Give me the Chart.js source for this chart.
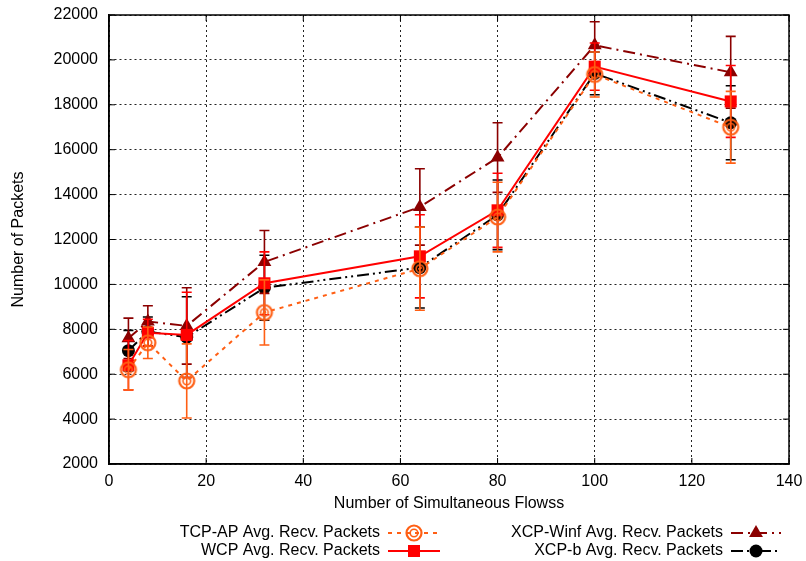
<!DOCTYPE html>
<html>
<head>
<meta charset="utf-8">
<script src="https://cdn.jsdelivr.net/npm/chart.js@4"></script>
<style>
  html, body { margin: 0; padding: 0; background: #fff; }
  canvas { display: block; }
</style>
</head>
<body>
<canvas id="flowsChart" width="806" height="561"></canvas>
<script>
// Number of simultaneous flows (x values)
const flows = [4, 8, 16, 32, 64, 80, 100, 128];

// Average received packets and their error (+/-) per protocol
const tcpAp = [6200, 7400, 5700, 8750, 10700, 13000, 19350, 17000];
const tcpApErr = [900, 700, 1650, 1450, 1850, 1550, 1000, 1600];

const wcp = [6400, 7850, 7750, 10050, 11250, 13300, 19700, 18150];
const wcpErr = [1100, 600, 1900, 1400, 1850, 1650, 1050, 1600];

const xcpWinf = [7600, 8350, 8150, 11000, 13450, 15650, 20650, 19450];
const xcpWinfErr = [900, 700, 1700, 1400, 1700, 1550, 1050, 1600];

const xcpB = [7050, 7900, 7650, 9850, 10750, 13100, 19400, 17200];
const xcpBErr = [900, 650, 1800, 1450, 1800, 1550, 950, 1650];

const xTicks = [0, 20, 40, 60, 80, 100, 120, 140];
const yTicks = [2000, 4000, 6000, 8000, 10000, 12000, 14000, 16000, 18000, 20000, 22000];

const FONT = "'Liberation Sans', Arial, Helvetica, sans-serif";
const ORANGE = '#ff5f14';
const RED = '#ff0000';
const DARK_RED = '#8b0000';
const BLACK = '#000000';

// Open circle with an inner ring
function ringMarker(color) {
    const c = document.createElement('canvas');
    c.width = 20; c.height = 20;
    const g = c.getContext('2d');
    g.strokeStyle = color;
    g.lineWidth = 2.2;
    g.beginPath(); g.arc(10, 10, 7.5, 0, Math.PI * 2); g.stroke();
    g.lineWidth = 1.6;
    g.beginPath(); g.arc(10, 10, 3.8, 0, Math.PI * 2); g.stroke();
    return c;
}

const toPoints = (ys) => flows.map((x, i) => ({ x: x, y: ys[i] }));

// Vertical error bars with caps, drawn just before each series
const errorBars = {
    id: 'errorBars',
    beforeDatasetDraw(chart, args) {
        const ds = chart.data.datasets[args.index];
        if (!ds.errors) return;
        const xs = chart.scales.x, ys = chart.scales.y;
        const ctx = chart.ctx;
        const area = chart.chartArea;
        ctx.save();
        ctx.beginPath();
        ctx.rect(area.left, area.top, area.right - area.left, area.bottom - area.top);
        ctx.clip();
        ctx.strokeStyle = ds.borderColor;
        ctx.lineWidth = 1.6;
        ctx.setLineDash([]);
        ds.data.forEach((p, i) => {
            const e = ds.errors[i];
            const px = xs.getPixelForValue(p.x);
            const top = ys.getPixelForValue(p.y + e);
            const bot = ys.getPixelForValue(p.y - e);
            ctx.beginPath();
            ctx.moveTo(px, top); ctx.lineTo(px, bot);
            ctx.moveTo(px - 5, top); ctx.lineTo(px + 5, top);
            ctx.moveTo(px - 5, bot); ctx.lineTo(px + 5, bot);
            ctx.stroke();
        });
        ctx.restore();
    }
};

// Full frame with inward ticks on all four sides
const frame = {
    id: 'frame',
    beforeDatasetsDraw(chart) {
        const { ctx, chartArea: a } = chart;
        const xs = chart.scales.x, ys = chart.scales.y;
        ctx.save();
        ctx.strokeStyle = BLACK;
        ctx.lineWidth = 1.5;
        ctx.setLineDash([]);
        ctx.strokeRect(a.left, a.top, a.right - a.left, a.bottom - a.top);
        ctx.lineWidth = 1;
        ctx.beginPath();
        xTicks.forEach(v => {
            const px = xs.getPixelForValue(v);
            ctx.moveTo(px, a.bottom); ctx.lineTo(px, a.bottom - 6);
            ctx.moveTo(px, a.top); ctx.lineTo(px, a.top + 6);
        });
        yTicks.forEach(v => {
            const py = ys.getPixelForValue(v);
            ctx.moveTo(a.left, py); ctx.lineTo(a.left + 6, py);
            ctx.moveTo(a.right, py); ctx.lineTo(a.right - 6, py);
        });
        ctx.stroke();
        ctx.restore();
    }
};

// Two-column key below the axis: label right-aligned, then a line sample with its marker
const keyBox = {
    id: 'keyBox',
    afterDraw(chart) {
        const ctx = chart.ctx;
        const spots = [
            { ds: 0, textRight: 380, x0: 388, x1: 440, y: 533 },
            { ds: 1, textRight: 380, x0: 388, x1: 440, y: 551 },
            { ds: 2, textRight: 723, x0: 731, x1: 781, y: 533 },
            { ds: 3, textRight: 723, x0: 731, x1: 781, y: 551 }
        ];
        ctx.save();
        spots.forEach(s => {
            const ds = chart.data.datasets[s.ds];
            ctx.font = '16px ' + FONT;
            ctx.fillStyle = BLACK;
            ctx.textAlign = 'right';
            ctx.textBaseline = 'middle';
            ctx.fillText(ds.label, s.textRight, s.y);

            ctx.strokeStyle = ds.borderColor;
            ctx.lineWidth = ds.borderWidth;
            ctx.setLineDash(ds.borderDash || []);
            ctx.beginPath();
            ctx.moveTo(s.x0, s.y); ctx.lineTo(s.x1, s.y);
            ctx.stroke();
            ctx.setLineDash([]);

            ctx.fillStyle = ds.pointBackgroundColor;
            ctx.strokeStyle = ds.pointBorderColor;
            Chart.helpers.drawPoint(ctx, {
                pointStyle: ds.pointStyle,
                radius: ds.pointRadius,
                borderWidth: ds.pointBorderWidth,
                rotation: 0
            }, (s.x0 + s.x1) / 2, s.y);
        });
        ctx.restore();
    }
};

const plain = (v) => String(v);

const ctx = document.getElementById('flowsChart').getContext('2d');
new Chart(ctx, {
    type: 'line',
    data: {
        datasets: [
            {
                label: 'TCP-AP Avg. Recv. Packets',
                data: toPoints(tcpAp),
                errors: tcpApErr,
                borderColor: ORANGE,
                borderWidth: 2,
                borderDash: [4, 5],
                pointStyle: ringMarker(ORANGE),
                pointRadius: 8,
                pointBackgroundColor: ORANGE,
                pointBorderColor: ORANGE,
                pointBorderWidth: 0
            },
            {
                label: 'WCP Avg. Recv. Packets',
                data: toPoints(wcp),
                errors: wcpErr,
                borderColor: RED,
                borderWidth: 2,
                borderDash: [],
                pointStyle: 'rect',
                pointRadius: 8.5,
                pointBackgroundColor: RED,
                pointBorderColor: RED,
                pointBorderWidth: 0
            },
            {
                label: 'XCP-Winf Avg. Recv. Packets',
                data: toPoints(xcpWinf),
                errors: xcpWinfErr,
                borderColor: DARK_RED,
                borderWidth: 2,
                borderDash: [12, 5, 2, 5],
                pointStyle: 'triangle',
                pointRadius: 8,
                pointBackgroundColor: DARK_RED,
                pointBorderColor: DARK_RED,
                pointBorderWidth: 0
            },
            {
                label: 'XCP-b Avg. Recv. Packets',
                data: toPoints(xcpB),
                errors: xcpBErr,
                borderColor: BLACK,
                borderWidth: 2,
                borderDash: [12, 4, 2, 4, 2, 4],
                pointStyle: 'circle',
                pointRadius: 6.5,
                pointBackgroundColor: BLACK,
                pointBorderColor: BLACK,
                pointBorderWidth: 0
            }
        ]
    },
    options: {
        responsive: false,
        animation: false,
        events: [],
        layout: { padding: { top: 15, right: 17, left: 0, bottom: 0 } },
        plugins: {
            legend: { display: false },
            tooltip: { enabled: false }
        },
        elements: { line: { tension: 0 } },
        scales: {
            x: {
                type: 'linear',
                min: 0,
                max: 140,
                afterBuildTicks: (s) => { s.ticks = xTicks.map(v => ({ value: v })); },
                afterFit: (s) => {
                    s.height = 97;
                    s.paddingLeft = 0;
                    s.paddingRight = 0;
                },
                ticks: { color: BLACK, font: { family: FONT, size: 16 }, padding: 8, maxRotation: 0, callback: plain },
                grid: { color: '#222', lineWidth: 1, drawTicks: false },
                border: { display: true, color: BLACK, width: 1.5, dash: [2, 3] },
                title: {
                    display: true,
                    text: 'Number of Simultaneous Flowss',
                    color: BLACK,
                    font: { family: FONT, size: 16 },
                    padding: { top: 0, bottom: 48 }
                }
            },
            y: {
                type: 'linear',
                min: 2000,
                max: 22000,
                afterBuildTicks: (s) => { s.ticks = yTicks.map(v => ({ value: v })); },
                afterFit: (s) => {
                    s.width = 109;
                    s.paddingTop = 0;
                    s.paddingBottom = 0;
                },
                ticks: { color: BLACK, font: { family: FONT, size: 16 }, padding: 11, callback: plain },
                grid: { color: '#222', lineWidth: 1, drawTicks: false },
                border: { display: true, color: BLACK, width: 1.5, dash: [2, 3] },
                title: {
                    display: true,
                    text: 'Number of Packets',
                    color: BLACK,
                    font: { family: FONT, size: 16 },
                    padding: { top: 9, bottom: 0 }
                }
            }
        }
    },
    plugins: [frame, errorBars, keyBox]
});
</script>
</body>
</html>
